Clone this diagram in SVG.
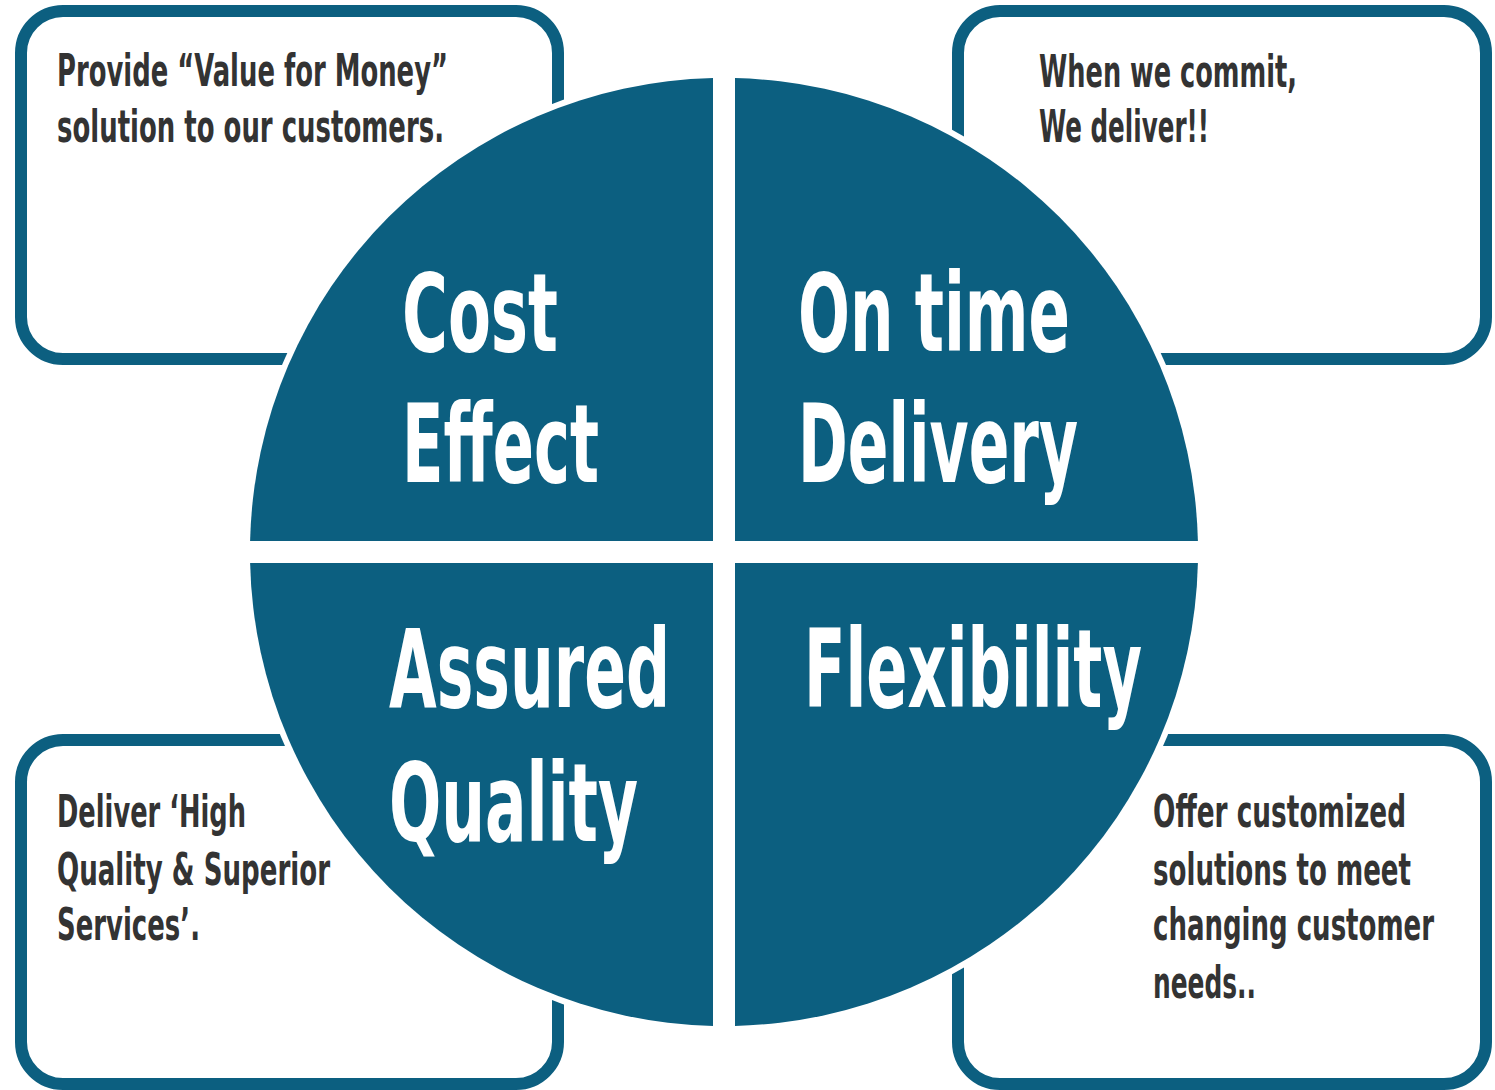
<svg xmlns="http://www.w3.org/2000/svg" width="1495" height="1090" viewBox="0 0 1495 1090">
<style>
.box{fill:#fff;stroke:#0c5f80;stroke-width:12}
.q{fill:#0c5f80}
.body{font-family:"Liberation Sans Narrow","DejaVu Sans Condensed","Liberation Sans",sans-serif;font-size:44px;font-weight:bold;fill:#333;font-stretch:condensed}
.big{font-family:"Liberation Sans Narrow","DejaVu Sans Condensed","Liberation Sans",sans-serif;font-size:108px;font-weight:bold;fill:#fff;font-stretch:condensed}
</style>
<rect width="1495" height="1090" fill="#fff"/>
<g id="box-tl"><rect class="box" x="21" y="11" width="537" height="348" rx="42"/>
<text class="body"><tspan x="57" y="86" textLength="391" lengthAdjust="spacingAndGlyphs">Provide “Value for Money”</tspan><tspan x="57" y="142" textLength="387" lengthAdjust="spacingAndGlyphs">solution to our customers.</tspan></text></g>
<g id="box-tr"><rect class="box" x="958" y="11" width="528" height="348" rx="42"/>
<text class="body"><tspan x="1039" y="87" textLength="258" lengthAdjust="spacingAndGlyphs">When we commit,</tspan><tspan x="1039" y="142" textLength="170" lengthAdjust="spacingAndGlyphs">We deliver!!</tspan></text></g>
<g id="box-bl"><rect class="box" x="21" y="740" width="537" height="344" rx="42"/>
<text class="body"><tspan x="57" y="827" textLength="189" lengthAdjust="spacingAndGlyphs">Deliver ‘High</tspan><tspan x="57" y="885" textLength="273" lengthAdjust="spacingAndGlyphs">Quality &amp; Superior</tspan><tspan x="57" y="940" textLength="143" lengthAdjust="spacingAndGlyphs">Services’.</tspan></text></g>
<g id="box-br"><rect class="box" x="958" y="740" width="528" height="344" rx="42"/>
<text class="body"><tspan x="1153" y="827" textLength="253" lengthAdjust="spacingAndGlyphs">Offer customized</tspan><tspan x="1153" y="885" textLength="258" lengthAdjust="spacingAndGlyphs">solutions to meet</tspan><tspan x="1153" y="940" textLength="281" lengthAdjust="spacingAndGlyphs">changing customer</tspan><tspan x="1153" y="998" textLength="103" lengthAdjust="spacingAndGlyphs">needs..</tspan></text></g>
<circle cx="724" cy="552" r="480" fill="#fff"/>
<g id="q-cost"><path class="q" d="M713,541 V78.1 A474,474 0 0 0 250.1,541 Z"/>
<text class="big"><tspan x="402" y="351" textLength="156" lengthAdjust="spacingAndGlyphs">Cost</tspan><tspan x="402" y="482" textLength="197" lengthAdjust="spacingAndGlyphs">Effect</tspan></text></g>
<g id="q-ontime"><path class="q" d="M735,541 V78.1 A474,474 0 0 1 1197.9,541 Z"/>
<text class="big"><tspan x="798" y="351" textLength="272" lengthAdjust="spacingAndGlyphs">On time</tspan><tspan x="798" y="482" textLength="280" lengthAdjust="spacingAndGlyphs">Delivery</tspan></text></g>
<g id="q-quality"><path class="q" d="M713,563 V1025.9 A474,474 0 0 1 250.1,563 Z"/>
<text class="big"><tspan x="389" y="707" textLength="281" lengthAdjust="spacingAndGlyphs">Assured</tspan><tspan x="389" y="841" textLength="249" lengthAdjust="spacingAndGlyphs">Quality</tspan></text></g>
<g id="q-flex"><path class="q" d="M735,563 V1025.9 A474,474 0 0 0 1197.9,563 Z"/>
<text class="big" x="804" y="707" textLength="338" lengthAdjust="spacingAndGlyphs">Flexibility</text></g>
<g id="connectors"/>
</svg>
